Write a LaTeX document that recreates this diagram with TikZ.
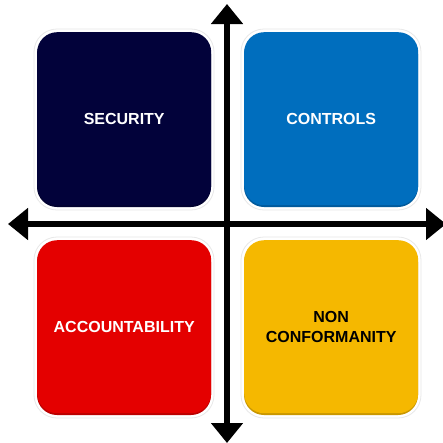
\documentclass[tikz,border=0pt]{standalone}
\usepackage{fontspec}
\setmainfont{Liberation Sans}
\usetikzlibrary{arrows.meta}
\definecolor{secblue}{RGB}{2,2,58}
\definecolor{ctrlblue}{RGB}{0,110,190}
\definecolor{accred}{RGB}{228,0,0}
\definecolor{ncyellow}{RGB}{245,184,0}
\tikzset{
  quad/.style={rounded corners=20pt, minimum width=174pt, minimum height=173pt,
    inner sep=0pt, align=center, font=\bfseries\fontsize{16}{20}\selectfont},
  halo/.style={rounded corners=23pt, fill=white, draw=gray!18, line width=0.8pt},
  axis/.style={line width=6.5pt, -{Triangle[width=31pt,length=20pt]}, black},
}
\begin{document}
\begin{tikzpicture}[x=1pt,y=-1pt]
\useasboundingbox (0,0) rectangle (443,442);
\clip (0,0) rectangle (443,442);
\fill[white] (0,0) rectangle (443,442);
% halos and shadows
\foreach \x/\y/\c in {37/32/secblue,244/32/ctrlblue,37/240/accred,244/240/ncyellow}{
  \path[halo] (\x-3,\y-3) rectangle (\x+177,\y+178);
  \fill[rounded corners=20pt,\c!82!black] (\x,\y+2) rectangle (\x+174,\y+175);
}
\node[quad, fill=secblue, text=white, anchor=north west] (sec) at (37,32) {SECURITY};
\node[quad, fill=ctrlblue, text=white, anchor=north west] (ctrl) at (244,32) {CONTROLS};
\node[quad, fill=accred, text=white, anchor=north west] (acc) at (37,240) {ACCOUNTABILITY};
\node[quad, fill=ncyellow, text=black, anchor=north west] (nc) at (244,240) {NON\\CONFORMANITY};
% axes
\coordinate (c) at (227,224);
\coordinate (top) at (227,4);
\coordinate (bot) at (227,443);
\coordinate (lft) at (8,224);
\coordinate (rgt) at (446,224);
\draw[axis] (c) -- (top);
\draw[axis] (c) -- (bot);
\draw[axis] (c) -- (lft);
\draw[axis] (c) -- (rgt);
\end{tikzpicture}
\end{document}
